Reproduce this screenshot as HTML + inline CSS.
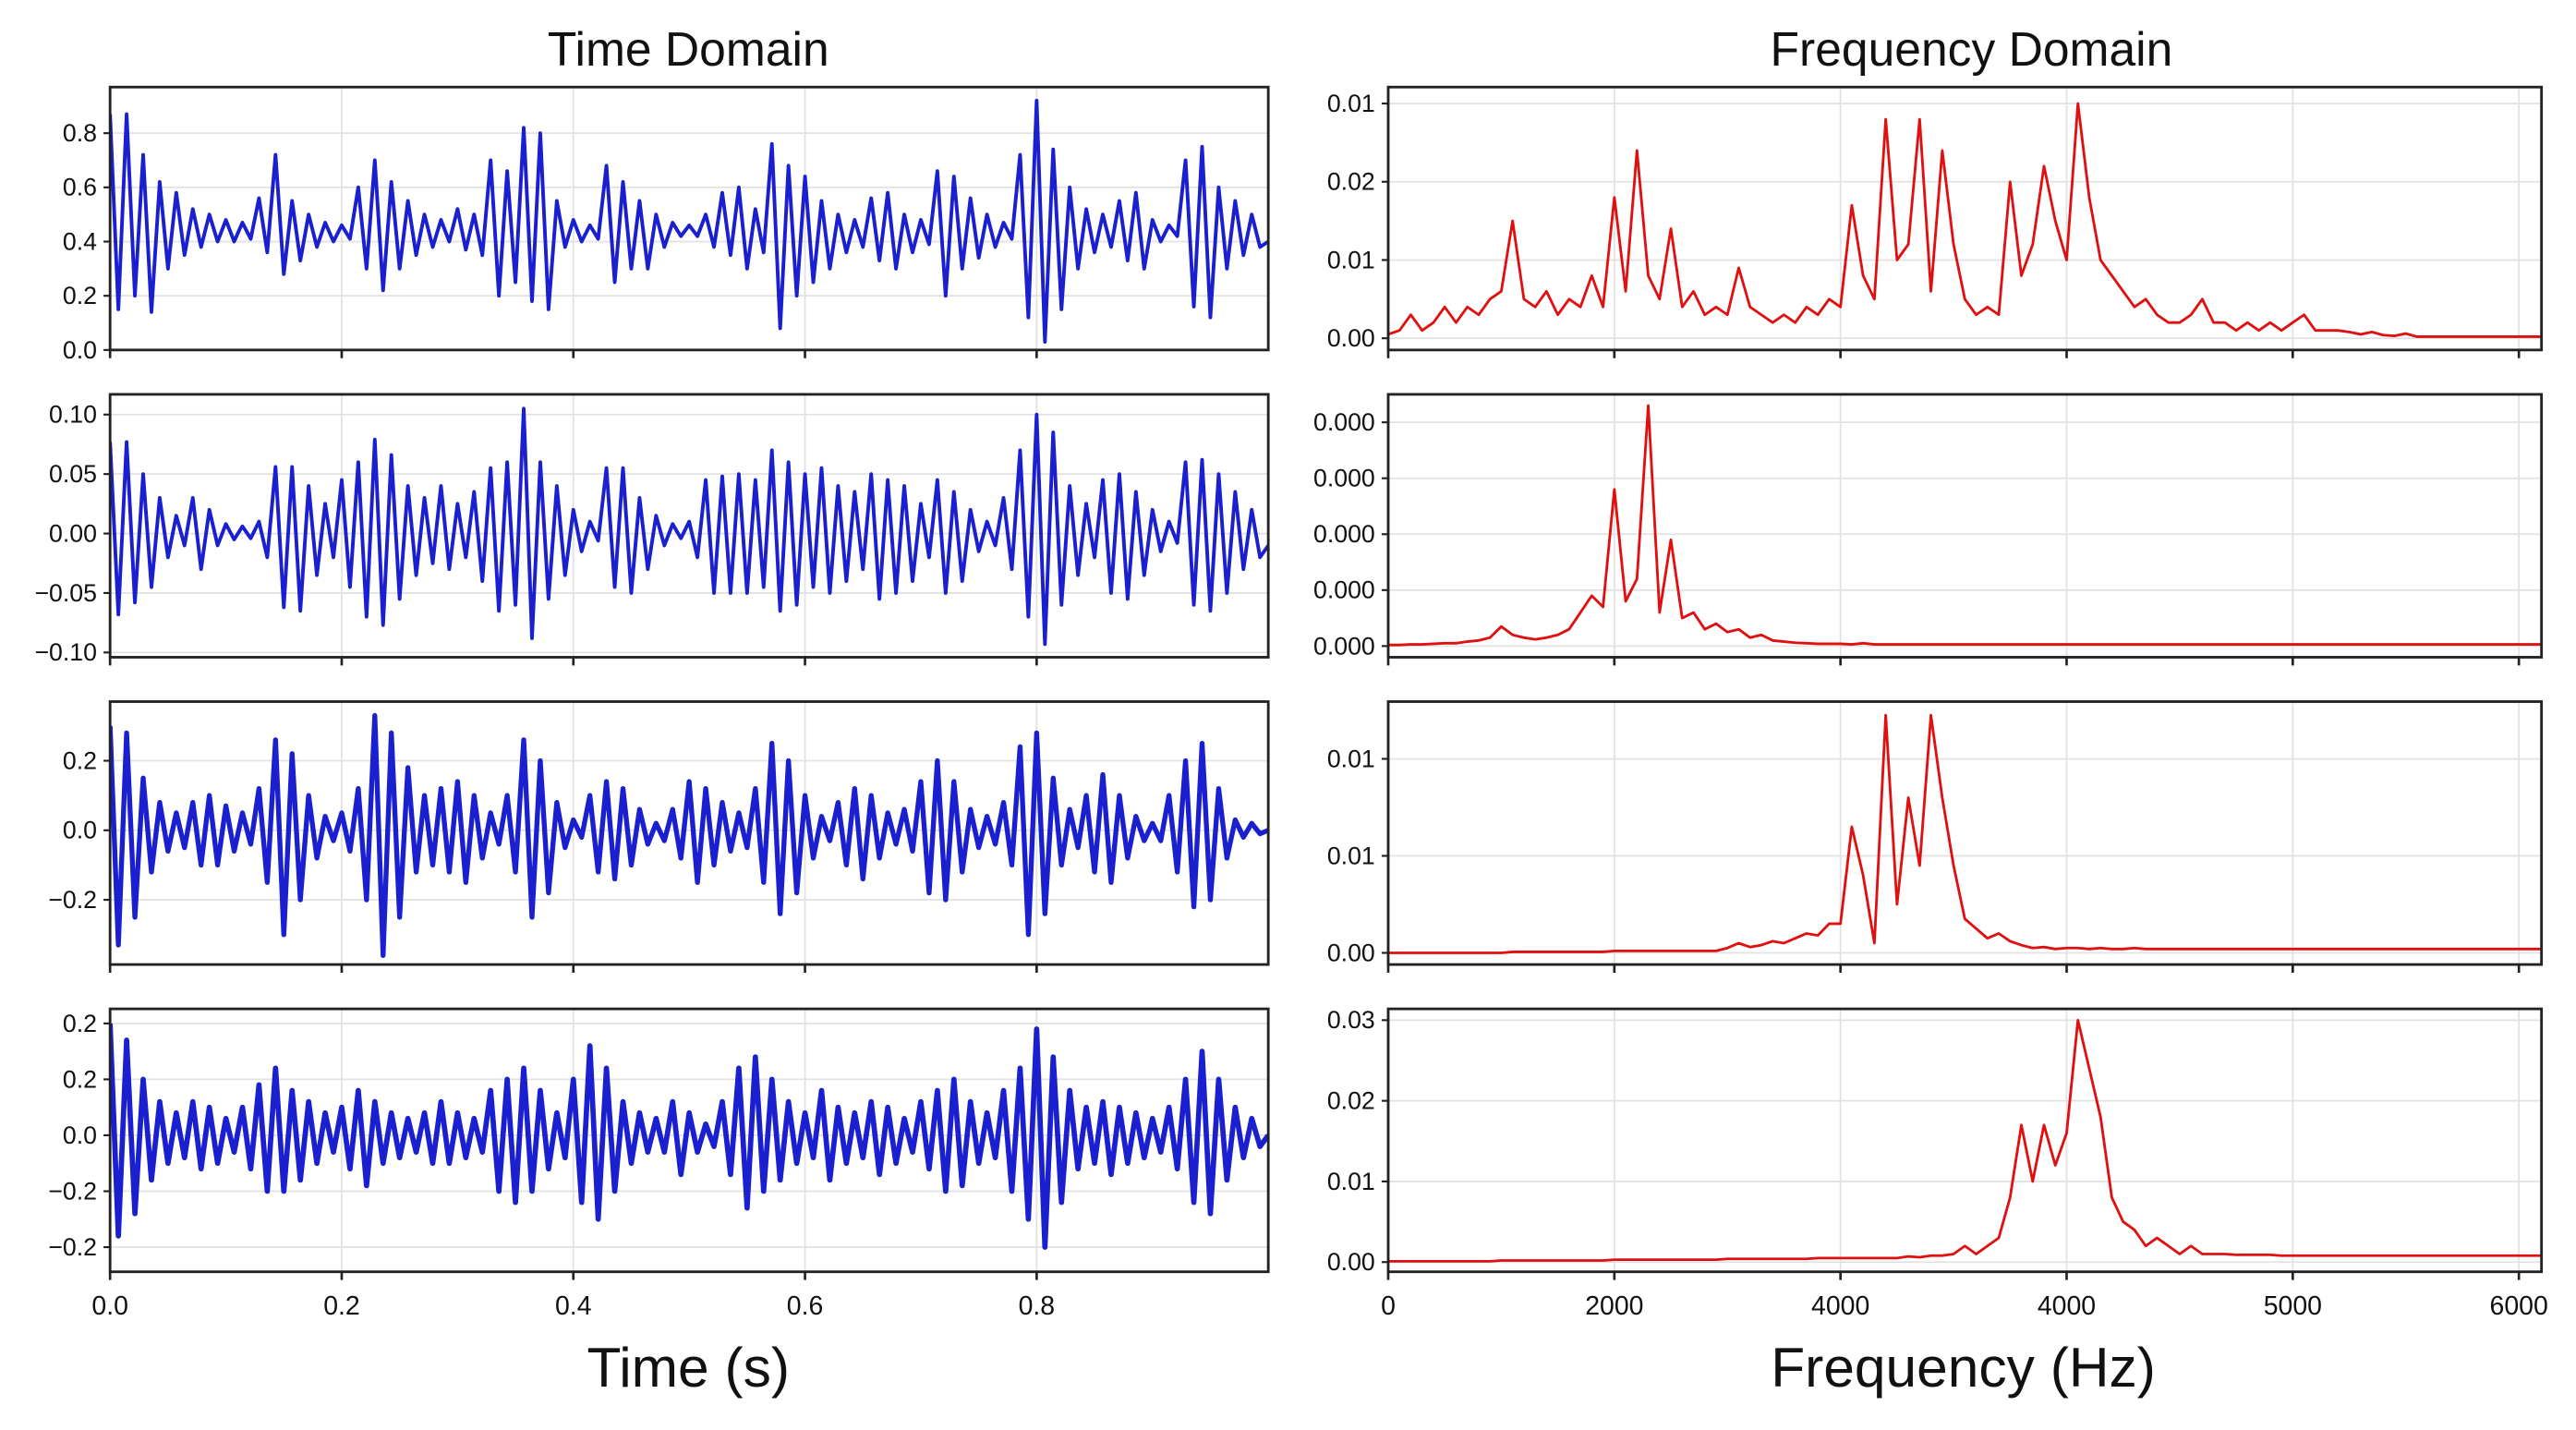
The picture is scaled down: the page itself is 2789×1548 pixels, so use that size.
<!DOCTYPE html>
<html><head><meta charset="utf-8"><style>
html,body{margin:0;padding:0;background:#fff;}
svg{display:block;}
text{font-family:"Liberation Sans",sans-serif;fill:#111;}
</style></head><body>
<svg id="chart" width="2789" height="1548" viewBox="0 0 1568 870.3" xmlns="http://www.w3.org/2000/svg">
<rect width="1568" height="870.3" fill="#fff"/>
<text x="419" y="40" font-size="29" text-anchor="middle">Time Domain</text>
<text x="1200" y="40" font-size="29" text-anchor="middle">Frequency Domain</text>
<text x="419" y="844" font-size="34" text-anchor="middle">Time (s)</text>
<text x="1195" y="844" font-size="34" text-anchor="middle">Frequency (Hz)</text>
<g id="plots"></g>
</svg>
<script>
// ---- data ----
const timeTicks=[0,0.2,0.4,0.6,0.8];
const timeTickLabels=["0.0","0.2","0.4","0.6","0.8"];
const freqTicks=[0,1,2,3,4,5];
const freqTickLabels=["0","2000","4000","4000","5000","6000"];
const t1=[0.87,0.15,0.87,0.2,0.72,0.14,0.62,0.3,0.58,0.35,0.52,0.38,0.5,0.40,0.48,0.40,0.47,0.41,0.56,0.36,0.72,0.28,0.55,0.33,0.5,0.38,0.47,0.4,0.46,0.41,0.6,0.3,0.7,0.22,0.62,0.3,0.55,0.35,0.5,0.38,0.48,0.4,0.52,0.37,0.5,0.35,0.7,0.2,0.66,0.25,0.82,0.18,0.8,0.15,0.55,0.38,0.48,0.4,0.46,0.41,0.68,0.25,0.62,0.3,0.55,0.3,0.5,0.38,0.47,0.42,0.46,0.42,0.5,0.38,0.58,0.35,0.6,0.3,0.52,0.36,0.76,0.08,0.68,0.2,0.64,0.25,0.55,0.3,0.5,0.36,0.48,0.38,0.56,0.33,0.58,0.3,0.5,0.36,0.48,0.39,0.66,0.2,0.64,0.3,0.56,0.34,0.5,0.38,0.47,0.41,0.72,0.12,0.92,0.03,0.74,0.15,0.6,0.3,0.52,0.36,0.5,0.38,0.55,0.33,0.58,0.3,0.48,0.4,0.46,0.42,0.7,0.16,0.75,0.12,0.6,0.3,0.55,0.35,0.5,0.38,0.4];
const t2=[0.077,-0.068,0.077,-0.058,0.05,-0.045,0.03,-0.02,0.015,-0.01,0.03,-0.03,0.02,-0.01,0.008,-0.005,0.006,-0.004,0.01,-0.02,0.056,-0.062,0.056,-0.065,0.04,-0.035,0.025,-0.02,0.045,-0.045,0.06,-0.07,0.079,-0.077,0.066,-0.055,0.04,-0.035,0.03,-0.025,0.04,-0.03,0.025,-0.02,0.035,-0.04,0.055,-0.065,0.06,-0.06,0.105,-0.088,0.06,-0.055,0.04,-0.035,0.02,-0.015,0.01,-0.006,0.055,-0.045,0.055,-0.05,0.03,-0.03,0.015,-0.01,0.008,-0.004,0.01,-0.02,0.045,-0.05,0.048,-0.05,0.05,-0.05,0.045,-0.045,0.07,-0.065,0.06,-0.06,0.05,-0.045,0.055,-0.05,0.04,-0.04,0.035,-0.03,0.05,-0.055,0.045,-0.05,0.04,-0.04,0.025,-0.02,0.045,-0.05,0.035,-0.04,0.02,-0.015,0.01,-0.01,0.03,-0.03,0.07,-0.07,0.1,-0.093,0.085,-0.06,0.04,-0.035,0.025,-0.02,0.045,-0.05,0.05,-0.055,0.035,-0.035,0.02,-0.015,0.01,-0.008,0.06,-0.06,0.062,-0.065,0.05,-0.05,0.035,-0.03,0.02,-0.02,-0.01];
const t3=[0.3,-0.33,0.28,-0.25,0.15,-0.12,0.08,-0.06,0.05,-0.05,0.08,-0.1,0.1,-0.1,0.07,-0.06,0.05,-0.04,0.12,-0.15,0.26,-0.3,0.22,-0.2,0.1,-0.08,0.04,-0.03,0.05,-0.06,0.12,-0.2,0.33,-0.36,0.28,-0.25,0.18,-0.12,0.1,-0.1,0.12,-0.12,0.14,-0.15,0.1,-0.08,0.05,-0.04,0.1,-0.12,0.26,-0.25,0.2,-0.18,0.08,-0.05,0.03,-0.02,0.1,-0.12,0.14,-0.14,0.12,-0.1,0.06,-0.04,0.02,-0.03,0.06,-0.08,0.14,-0.15,0.12,-0.1,0.08,-0.06,0.05,-0.05,0.12,-0.15,0.25,-0.24,0.2,-0.18,0.1,-0.08,0.04,-0.03,0.08,-0.1,0.12,-0.14,0.1,-0.08,0.05,-0.04,0.06,-0.06,0.14,-0.18,0.2,-0.2,0.14,-0.12,0.06,-0.05,0.04,-0.04,0.08,-0.1,0.24,-0.3,0.28,-0.24,0.15,-0.1,0.06,-0.05,0.1,-0.12,0.16,-0.15,0.1,-0.08,0.04,-0.03,0.02,-0.03,0.1,-0.12,0.2,-0.22,0.25,-0.2,0.12,-0.08,0.03,-0.02,0.02,-0.01,0.0];
const t4=[0.2,-0.18,0.17,-0.14,0.1,-0.08,0.06,-0.05,0.04,-0.04,0.06,-0.06,0.05,-0.05,0.03,-0.03,0.05,-0.06,0.09,-0.1,0.12,-0.1,0.08,-0.08,0.06,-0.05,0.04,-0.03,0.05,-0.06,0.08,-0.09,0.06,-0.05,0.04,-0.04,0.03,-0.03,0.04,-0.05,0.06,-0.05,0.04,-0.04,0.03,-0.03,0.08,-0.1,0.1,-0.12,0.12,-0.1,0.08,-0.06,0.04,-0.04,0.1,-0.12,0.16,-0.15,0.12,-0.1,0.06,-0.05,0.04,-0.03,0.03,-0.03,0.06,-0.07,0.04,-0.03,0.02,-0.02,0.06,-0.07,0.12,-0.13,0.14,-0.1,0.1,-0.08,0.06,-0.05,0.04,-0.04,0.08,-0.08,0.05,-0.05,0.04,-0.04,0.06,-0.07,0.05,-0.05,0.03,-0.03,0.06,-0.06,0.08,-0.1,0.1,-0.09,0.06,-0.05,0.04,-0.04,0.08,-0.1,0.12,-0.15,0.19,-0.2,0.14,-0.12,0.08,-0.06,0.05,-0.05,0.06,-0.07,0.05,-0.05,0.04,-0.04,0.03,-0.03,0.05,-0.06,0.1,-0.12,0.15,-0.14,0.1,-0.08,0.05,-0.04,0.03,-0.02,0.0];
const f1=[0.0005,0.001,0.003,0.001,0.002,0.004,0.002,0.004,0.003,0.005,0.006,0.015,0.005,0.004,0.006,0.003,0.005,0.004,0.008,0.004,0.018,0.006,0.024,0.008,0.005,0.014,0.004,0.006,0.003,0.004,0.003,0.009,0.004,0.003,0.002,0.003,0.002,0.004,0.003,0.005,0.004,0.017,0.008,0.005,0.028,0.01,0.012,0.028,0.006,0.024,0.012,0.005,0.003,0.004,0.003,0.02,0.008,0.012,0.022,0.015,0.01,0.03,0.018,0.01,0.008,0.006,0.004,0.005,0.003,0.002,0.002,0.003,0.005,0.002,0.002,0.001,0.002,0.001,0.002,0.001,0.002,0.003,0.001,0.001,0.001,0.0008,0.0005,0.0008,0.0004,0.0003,0.0006,0.0002,0.0002,0.0002,0.0002,0.0002,0.0002,0.0002,0.0002,0.0002,0.0002,0.0002,0.0002];
const f2=[0.02,0.02,0.03,0.03,0.04,0.05,0.05,0.08,0.1,0.15,0.35,0.2,0.15,0.12,0.15,0.2,0.3,0.6,0.9,0.7,2.8,0.8,1.2,4.3,0.6,1.9,0.5,0.6,0.3,0.4,0.25,0.3,0.15,0.2,0.1,0.08,0.06,0.05,0.04,0.04,0.04,0.03,0.05,0.03,0.03,0.03,0.03,0.03,0.03,0.03,0.03,0.03,0.03,0.03,0.03,0.03,0.03,0.03,0.03,0.03,0.03,0.03,0.03,0.03,0.03,0.03,0.03,0.03,0.03,0.03,0.03,0.03,0.03,0.03,0.03,0.03,0.03,0.03,0.03,0.03,0.03,0.03,0.03,0.03,0.03,0.03,0.03,0.03,0.03,0.03,0.03,0.03,0.03,0.03,0.03,0.03,0.03,0.03,0.03,0.03,0.03,0.03,0.03];
const f3=[0,0,0,0,0,0,0,0,0,0,0,0.01,0.01,0.01,0.01,0.01,0.01,0.01,0.01,0.01,0.02,0.02,0.02,0.02,0.02,0.02,0.02,0.02,0.02,0.02,0.05,0.1,0.06,0.08,0.12,0.1,0.15,0.2,0.18,0.3,0.3,1.3,0.8,0.1,2.45,0.5,1.6,0.9,2.45,1.6,0.9,0.35,0.25,0.15,0.2,0.12,0.08,0.05,0.06,0.04,0.05,0.05,0.04,0.05,0.04,0.04,0.05,0.04,0.04,0.04,0.04,0.04,0.04,0.04,0.04,0.04,0.04,0.04,0.04,0.04,0.04,0.04,0.04,0.04,0.04,0.04,0.04,0.04,0.04,0.04,0.04,0.04,0.04,0.04,0.04,0.04,0.04,0.04,0.04,0.04,0.04,0.04,0.04];
const f4=[0.0001,0.0001,0.0001,0.0001,0.0001,0.0001,0.0001,0.0001,0.0001,0.0001,0.0002,0.0002,0.0002,0.0002,0.0002,0.0002,0.0002,0.0002,0.0002,0.0002,0.0003,0.0003,0.0003,0.0003,0.0003,0.0003,0.0003,0.0003,0.0003,0.0003,0.0004,0.0004,0.0004,0.0004,0.0004,0.0004,0.0004,0.0004,0.0005,0.0005,0.0005,0.0005,0.0005,0.0005,0.0005,0.0005,0.0007,0.0006,0.0008,0.0008,0.001,0.002,0.001,0.002,0.003,0.008,0.017,0.01,0.017,0.012,0.016,0.03,0.024,0.018,0.008,0.005,0.004,0.002,0.003,0.002,0.001,0.002,0.001,0.001,0.001,0.0009,0.0009,0.0009,0.0009,0.0008,0.0008,0.0008,0.0008,0.0008,0.0008,0.0008,0.0008,0.0008,0.0008,0.0008,0.0008,0.0008,0.0008,0.0008,0.0008,0.0008,0.0008,0.0008,0.0008,0.0008,0.0008,0.0008,0.0008];
const yTicksT1=[0,0.2,0.4,0.6,0.8], yLabT1=["0.0","0.2","0.4","0.6","0.8"];
const yTicksT2=[-0.1,-0.05,0,0.05,0.1], yLabT2=["−0.10","−0.05","0.00","0.05","0.10"];
const yTicksT3=[-0.2,0,0.2], yLabT3=["−0.2","0.0","0.2"];
const yTicksT4=[-0.2,-0.1,0,0.1,0.2], yLabT4=["−0.2","−0.2","0.0","0.2","0.2"];
const yTicksF1=[0,0.01,0.02,0.03], yLabF1=["0.00","0.01","0.02","0.01"];
const yTicksF2=[0,1,2,3,4], yLabF2=["0.000","0.000","0.000","0.000","0.000"];
const yTicksF3=[0,1,2], yLabF3=["0.00","0.01","0.01"];
const yTicksF4=[0,0.01,0.02,0.03], yLabF4=["0.00","0.01","0.02","0.03"];

// ---- drawing ----
const NS="http://www.w3.org/2000/svg";
const root=document.getElementById('plots');
function mk(tag,attrs,parent){const e=document.createElementNS(NS,tag);for(const k in attrs)e.setAttribute(k,attrs[k]);(parent||root).appendChild(e);return e;}
const rows=[[53,213],[240,400],[427,587],[614,774]];
function panel(cfg){
  const [x0,x1]=cfg.px,[y0,y1]=cfg.py;
  const sx=v=>x0+(v-cfg.xmin)/(cfg.xmax-cfg.xmin)*(x1-x0);
  const sy=v=>y1-(v-cfg.ymin)/(cfg.ymax-cfg.ymin)*(y1-y0);
  const g=mk('g',{});
  
  
  cfg.xticks.forEach((t,i)=>{
    const l=mk('line',{x1:sx(t),x2:sx(t),y1:y0,y2:y1,stroke:'#e2e2e2','stroke-width':1},g);
    
    
    const tk=mk('line',{x1:sx(t),x2:sx(t),y1:y1,y2:y1+5,stroke:'#222','stroke-width':1.5},g);
    
    
    if(cfg.showX){const tx=mk('text',{x:sx(t),y:y1+26,'font-size':16,'text-anchor':'middle'},g);tx.textContent=cfg.xlabels[i];
      
      }
  });
  cfg.yticks.forEach((t,i)=>{
    const l=mk('line',{x1:x0,x2:x1,y1:sy(t),y2:sy(t),stroke:'#e2e2e2','stroke-width':1},g);
    
    
    const tk=mk('line',{x1:x0-4,x2:x0,y1:sy(t),y2:sy(t),stroke:'#222','stroke-width':1.2},g);
    
    
    const tx=mk('text',{x:x0-8,y:sy(t)+5,'font-size':15,'text-anchor':'end'},g);tx.textContent=cfg.ylabels[i];
    
    
  });
  const n=cfg.data.length;
  const pts=cfg.data.map((v,i)=>{const x=cfg.xmin+(cfg.xspan*i/(n-1));return sx(x).toFixed(2)+','+sy(v).toFixed(2);}).join(' ');
  const cp=mk('clipPath',{id:'c'+cfg.name},g);mk('rect',{x:x0,y:y0,width:x1-x0,height:y1-y0},cp);
  const pl=mk('polyline',{points:pts,fill:'none',stroke:cfg.color,'stroke-width':cfg.sw,'stroke-linejoin':'round','clip-path':'url(#c'+cfg.name+')'},g);
  
  
  const fr=mk('rect',{x:x0,y:y0,width:x1-x0,height:y1-y0,fill:'none',stroke:'#222','stroke-width':1.6},g);
  
  
}
const tcfg=[[t1,yTicksT1,yLabT1,0.0,0.97,2.2],[t2,yTicksT2,yLabT2,-0.104,0.117,2.2],[t3,yTicksT3,yLabT3,-0.386,0.37,3.0],[t4,yTicksT4,yLabT4,-0.244,0.226,3.2]];
const fcfg=[[f1,yTicksF1,yLabF1,-0.0015,0.0321],[f2,yTicksF2,yLabF2,-0.2,4.5],[f3,yTicksF3,yLabF3,-0.12,2.59],[f4,yTicksF4,yLabF4,-0.0012,0.0314]];
tcfg.forEach((c,r)=>panel({name:'time-panel-'+(r+1),px:[67,772],py:rows[r],xmin:0,xmax:1,xspan:1,ymin:c[3],ymax:c[4],
  xticks:timeTicks,xlabels:timeTickLabels,showX:r===3,yticks:c[1],ylabels:c[2],data:c[0],color:'#1a1fd0',sw:c[5]}));
fcfg.forEach((c,r)=>panel({name:'freq-panel-'+(r+1),px:[845,1547],py:rows[r],xmin:0,xmax:5.1,xspan:5.1,ymin:c[3],ymax:c[4],
  xticks:freqTicks,xlabels:freqTickLabels,showX:r===3,yticks:c[1],ylabels:c[2],data:c[0],color:'#e01010',sw:1.6}));
</script>
</body></html>
